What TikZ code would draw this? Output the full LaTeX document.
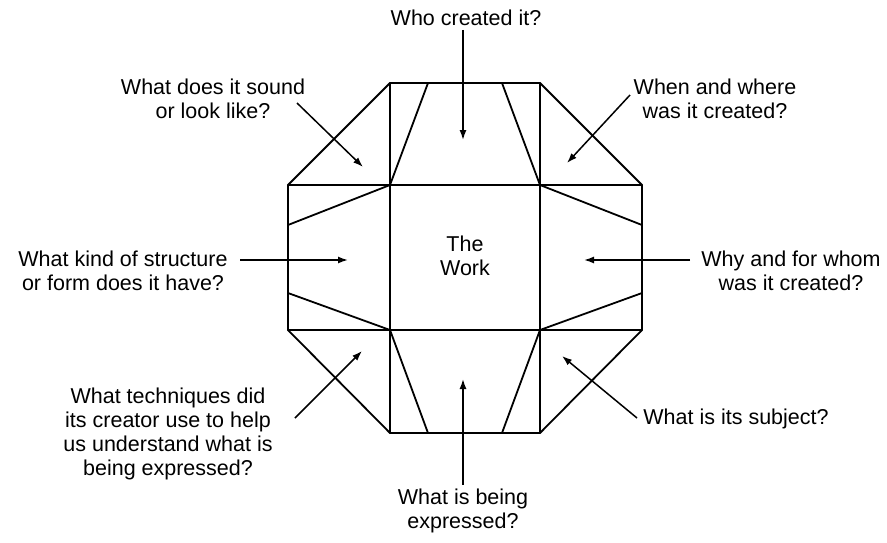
\documentclass[tikz,border=0pt]{standalone}
\usepackage{fontspec}
\setmainfont{Liberation Sans}
\usetikzlibrary{arrows.meta}

\begin{document}
\begin{tikzpicture}[x=1pt,y=-1pt,
  font=\fontsize{21.5}{24}\selectfont,
  q/.style={align=center,inner sep=0pt,outer sep=4pt},
  fold/.style={line width=1.8pt,line join=miter},
  ar/.style={-{Latex[length=10pt,width=7pt]},line width=1.5pt}
]
\useasboundingbox (0,0) rectangle (887,542);
% ---- octagon corners
\coordinate (o1) at (390,83);  \coordinate (o2) at (540,83);
\coordinate (o3) at (642,185); \coordinate (o4) at (642,330);
\coordinate (o5) at (540,433); \coordinate (o6) at (390,433);
\coordinate (o7) at (288,330); \coordinate (o8) at (288,185);
% ---- central square
\coordinate (s1) at (390,185); \coordinate (s2) at (540,185);
\coordinate (s3) at (540,330); \coordinate (s4) at (390,330);

\draw[fold] (o1)--(o2)--(o3)--(o4)--(o5)--(o6)--(o7)--(o8)--cycle;
\draw[fold] (o8)--(o3) (o7)--(o4) (o1)--(o6) (o2)--(o5);
% ---- flap creases
\draw[fold] (s1)--(428,83) (s2)--(502,83);
\draw[fold] (s4)--(428,433) (s3)--(502,433);
\draw[fold] (s1)--(288,225) (s4)--(288,293);
\draw[fold] (s2)--(642,225) (s3)--(642,293);

\node[q] (work) at (465,256) {The\\Work};

% ---- questions
\node[q] (who)  at (466,18)  {Who created it?};
\node[q] (look) at (213,99)  {What does it sound\\or look like?};
\node[q] (when) at (715,99)  {When and where\\was it created?};
\node[q] (form) at (123,271) {What kind of structure\\or form does it have?};
\node[q] (why)  at (791,271) {Why and for whom\\was it created?};
\node[q] (tech) at (168,434) {What techniques did\\its creator use to help\\us understand what is\\being expressed?};
\node[q] (subj) at (736,419) {What is its subject?};
\node[q] (expr) at (463,511) {What is being\\expressed?};

% ---- arrow ends
\coordinate (look-a) at (297,103); \coordinate (look-b) at (363,167);
\coordinate (when-a) at (630,95);  \coordinate (when-b) at (567,163);
\coordinate (form-a) at (240,260); \coordinate (form-b) at (348,260);
\coordinate (why-a)  at (690,260); \coordinate (why-b)  at (584,260);
\coordinate (tech-a) at (295,418); \coordinate (tech-b) at (362,351);
\coordinate (subj-a) at (637,418); \coordinate (subj-b) at (562,356);
\coordinate (who-b)  at (463,140); \coordinate (expr-b) at (463,379);

\draw[ar] (who.south -| who-b) -- (who-b);
\draw[ar] (look-a) -- (look-b);
\draw[ar] (when-a) -- (when-b);
\draw[ar] (form-a) -- (form-b);
\draw[ar] (why-a) -- (why-b);
\draw[ar] (tech-a) -- (tech-b);
\draw[ar] (subj-a) -- (subj-b);
\draw[ar] (expr) -- (expr-b);
\end{tikzpicture}
\end{document}
